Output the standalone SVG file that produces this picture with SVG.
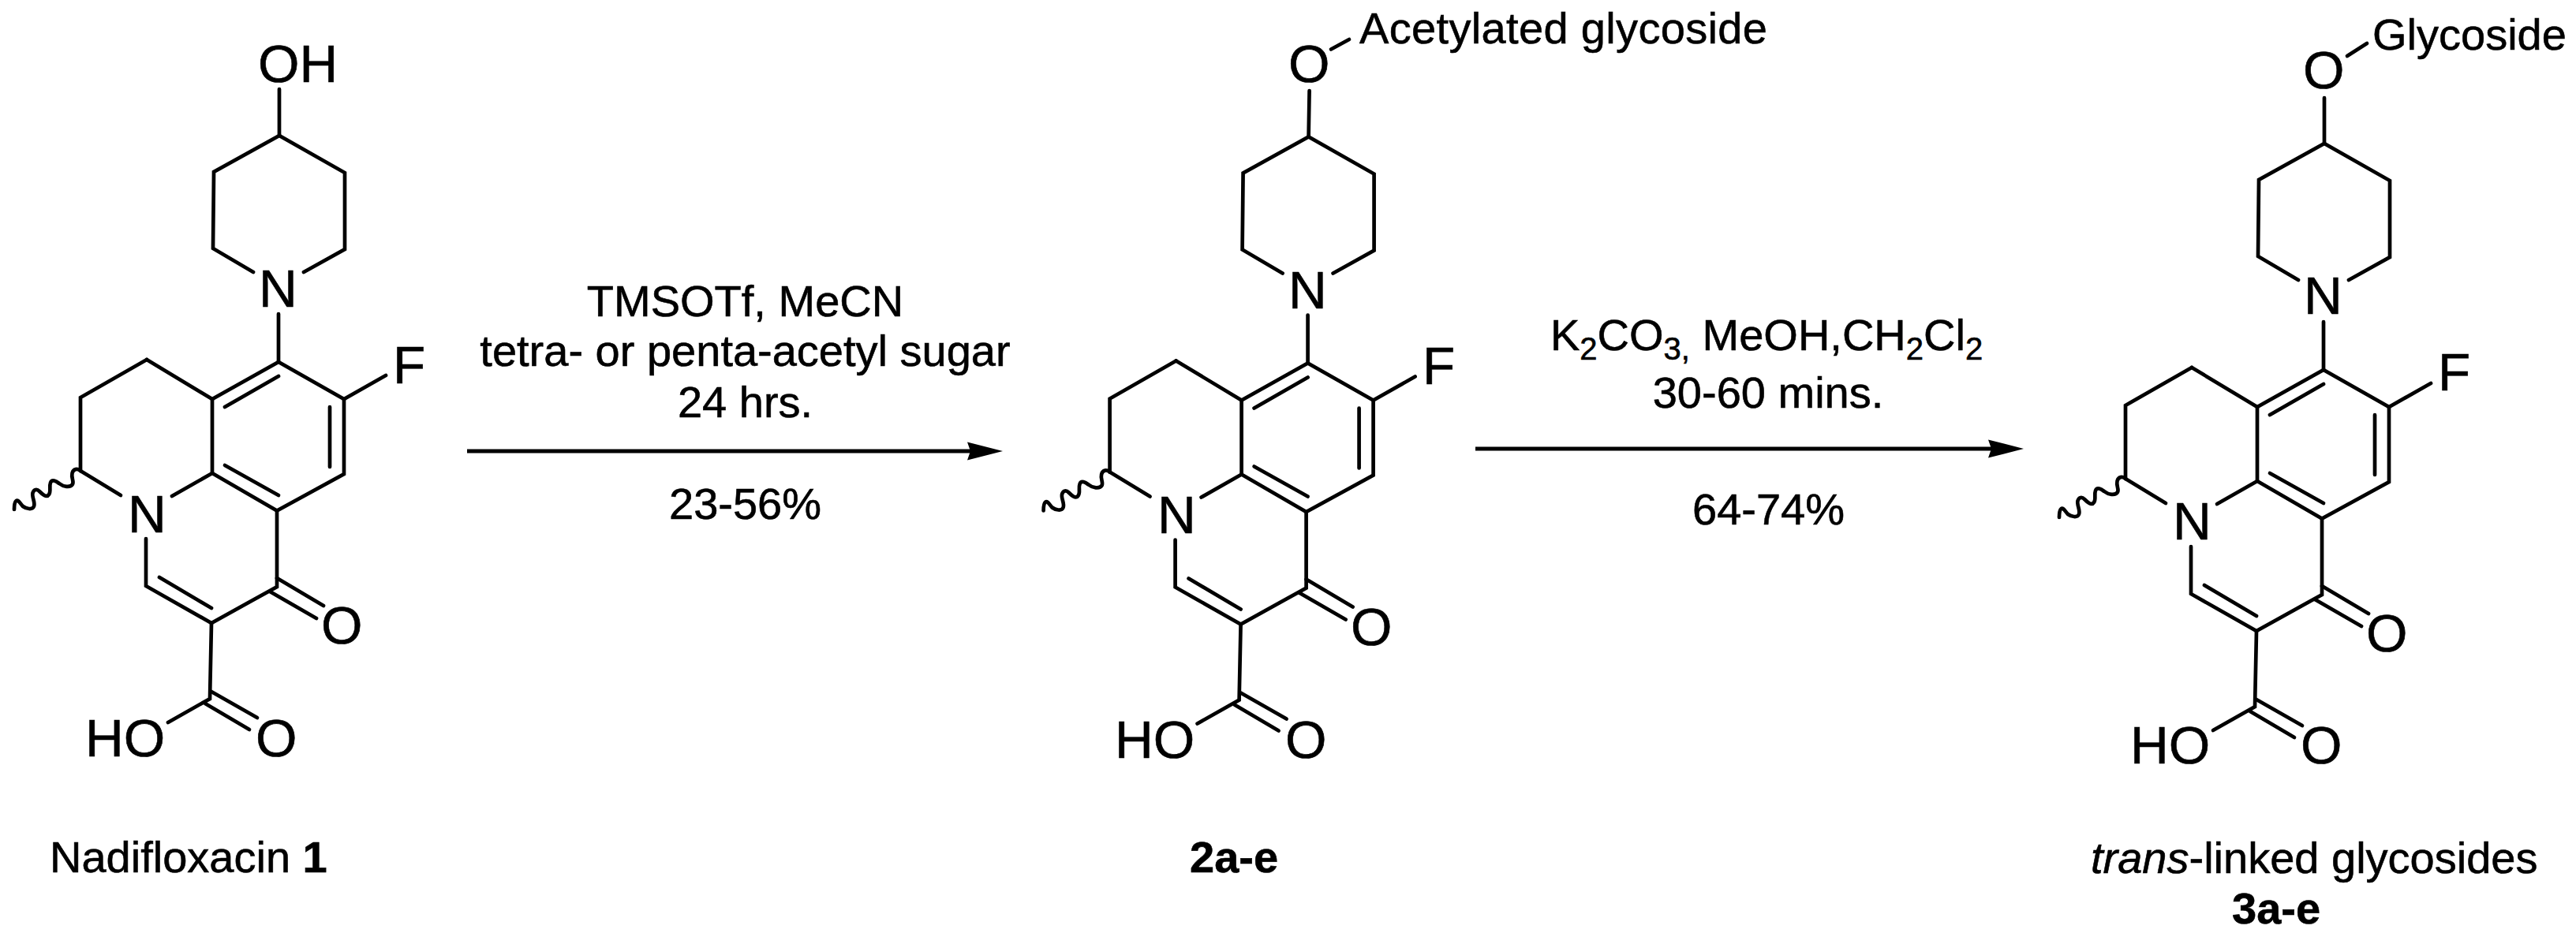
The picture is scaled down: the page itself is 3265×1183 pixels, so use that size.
<svg xmlns="http://www.w3.org/2000/svg" xmlns:xlink="http://www.w3.org/1999/xlink" width="3265" height="1183" viewBox="0 0 3265 1183">
<style>
text{font-family:"Liberation Sans",Arial,sans-serif;fill:#000;stroke:#000;stroke-width:.6;font-kerning:none}
.atom{font-size:67.5px}
.lbl{font-size:56px}
.c{text-anchor:middle}
.b{font-weight:700}
.i{font-style:italic}
.sub{font-size:40px}
.bond{fill:none;stroke:#000;stroke-width:4.7;stroke-linecap:round;stroke-linejoin:miter}
.arrow{fill:none;stroke:#000;stroke-width:5}
</style>
<defs>
<path id="head" d="M0 0L-45 -11.5L-41 0L-45 11.5Z" fill="#000"/>
<g id="core" class="bond">
<path d="M385 345L437 316V219L354 172L271 218L270 315L321 345"/>
<path d="M353 398V459"/>
<path d="M186 456L102 504V597"/>
<path d="M186 456L269 506L353 459L436 506L489 476"/>
<path d="M285 516L353 477"/>
<path d="M269 506V600"/>
<path d="M436 506V601L351 647.5L269 600"/>
<path d="M418 516V592"/>
<path d="M285 590L353 628"/>
<path d="M102 597L153 628"/>
<path d="M269 600L218 629"/>
<path d="M351 647.5V744L268 790L185 743V683"/>
<path d="M202 732L268 771"/>
<path d="M351 733L410 768"/>
<path d="M342 750L401 784"/>
<path d="M268 790L266 886L213 916"/>
<path d="M268 877L326 910"/>
<path d="M260 892L316 925"/>
<path d="M101.8 596.8C98 594 93 594 91.5 600C90 606 94 610 92 614C89 619 80 617 75 613C71 610 66 607 64 612C62 617 65 623 62 627C59 632 53 626 50 623C47 620 43 620 41.5 625C40 630 45 637 43 642C41 647 33 645 29 642C26 639 23 633 20.5 635C18 637 18 642 18 646"/>
</g>
</defs>

<g id="compound-1">
<use href="#core"/>
<path class="bond" d="M354 113V172"/>
<text class="atom" x="327" y="103.5">OH</text>
<text class="atom" x="328" y="388.5">N</text>
<text class="atom" x="498" y="486">F</text>
<text class="atom" x="162" y="674.5">N</text>
<text class="atom" x="407" y="816">O</text>
<text class="atom" x="108" y="958.5">HO</text>
<text class="atom" x="324" y="958.5">O</text>
<text class="lbl" x="63" y="1106">Nadifloxacin <tspan class="b">1</tspan></text>
</g>

<g id="compound-2">
<use href="#core" transform="translate(1304.6 1.5)"/>
<path class="bond" d="M1659.6 115L1658.6 173"/>
<path class="bond" d="M1687 62.5L1710 50"/>
<text class="atom" x="1633" y="103.5">O</text>
<text class="lbl" x="1723" y="55" textLength="517">Acetylated glycoside</text>
<text class="atom" x="1633" y="390.5">N</text>
<text class="atom" x="1803" y="486.5">F</text>
<text class="atom" x="1467" y="675.5">N</text>
<text class="atom" x="1712" y="817.5">O</text>
<text class="atom" x="1413" y="960.5">HO</text>
<text class="atom" x="1629" y="960.5">O</text>
<text class="lbl b" x="1508" y="1106">2a-e</text>
</g>

<g id="compound-3">
<use href="#core" transform="translate(2592 10)"/>
<path class="bond" d="M2946 124V182"/>
<path class="bond" d="M2975 71L3000 55"/>
<text class="atom" x="2919" y="112">O</text>
<text class="lbl" x="3007" y="62.5">Glycoside</text>
<text class="atom" x="2920" y="398">N</text>
<text class="atom" x="3090" y="495">F</text>
<text class="atom" x="2754" y="684">N</text>
<text class="atom" x="2999" y="826">O</text>
<text class="atom" x="2700" y="968">HO</text>
<text class="atom" x="2916" y="968">O</text>
<text class="lbl" x="2650" y="1107"><tspan class="i">trans</tspan>-linked glycosides</text>
<text class="lbl b" x="2829" y="1171">3a-e</text>
</g>

<g id="connectors">
<path class="arrow" d="M592 572H1232"/>
<use href="#head" transform="translate(1271 572)"/>
<path class="arrow" d="M1870 569H2526"/>
<use href="#head" transform="translate(2565 569)"/>
</g>

<g id="conditions-1">
<text class="lbl c" x="944.5" y="400.5">TMSOTf, MeCN</text>
<text class="lbl c" x="944.5" y="464">tetra- or penta-acetyl sugar</text>
<text class="lbl c" x="944.5" y="529">24 hrs.</text>
<text class="lbl c" x="944.5" y="657.5">23-56%</text>
</g>

<g id="conditions-2">
<text class="lbl" x="1965" y="444">K<tspan class="sub" dy="12">2</tspan><tspan dy="-12">CO</tspan><tspan class="sub" dy="12">3,</tspan><tspan dy="-12"> MeOH,CH</tspan><tspan class="sub" dy="12">2</tspan><tspan dy="-12">Cl</tspan><tspan class="sub" dy="12">2</tspan></text>
<text class="lbl c" x="2241" y="517">30-60 mins.</text>
<text class="lbl c" x="2241.5" y="665">64-74%</text>
</g>
</svg>
